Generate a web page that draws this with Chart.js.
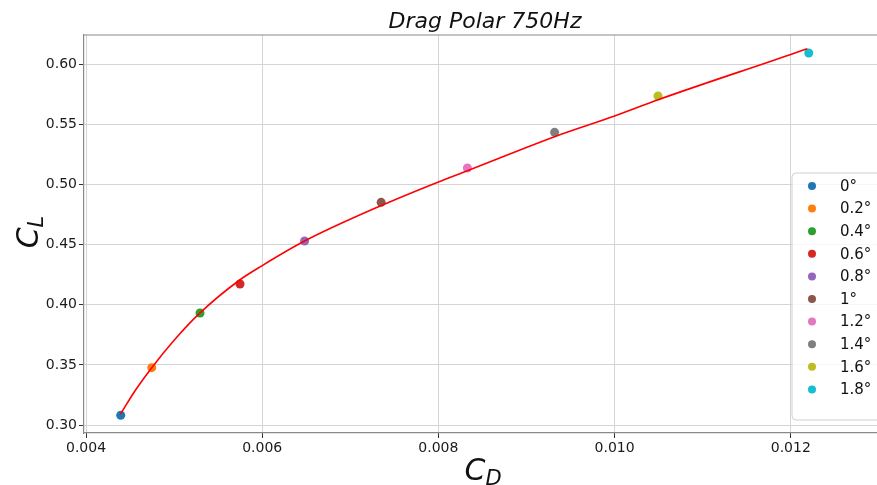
<!DOCTYPE html>
<html>
<head>
<meta charset="utf-8">
<script src="https://cdn.jsdelivr.net/npm/chart.js@4/dist/chart.umd.min.js"></script>
<style>
  html, body { margin: 0; padding: 0; background: #fff; overflow: hidden; }
  #wrap { width: 877px; height: 485px; overflow: hidden; }
</style>
</head>
<body>
<div id="wrap"><canvas id="polarChart" width="892" height="485"></canvas></div>
<script>
// angle of attack labels
const angles = ['0°', '0.2°', '0.4°', '0.6°', '0.8°', '1°', '1.2°', '1.4°', '1.6°', '1.8°'];

// measured points (CD, CL)
const cdPoints = [0.004394, 0.004746, 0.005294, 0.005748, 0.006481, 0.007350, 0.008329, 0.009319, 0.010493, 0.012204];
const clPoints = [0.3081, 0.3477, 0.3932, 0.4173, 0.4530, 0.4852, 0.5138, 0.5434, 0.5736, 0.6094];

// red fit curve
const fitCd = [0.004389, 0.004568, 0.004746, 0.005010, 0.005294, 0.005748, 0.006000, 0.006481, 0.007350, 0.008000, 0.008329, 0.009319, 0.010000, 0.010493, 0.012000, 0.012188];
const fitCl = [0.3089, 0.3297, 0.3477, 0.3713, 0.3932, 0.4208, 0.4326, 0.4530, 0.4825, 0.5022, 0.5115, 0.5398, 0.5570, 0.5705, 0.6082, 0.6130];

// tick labels
const xTicks = [0.004, 0.006, 0.008, 0.010, 0.012];
const yTicks = [0.30, 0.35, 0.40, 0.45, 0.50, 0.55, 0.60];

const tab10 = ['#1f77b4', '#ff7f0e', '#2ca02c', '#d62728', '#9467bd', '#8c564b', '#e377c2', '#7f7f7f', '#bcbd22', '#17becf'];
const FONT = '"DejaVu Sans", sans-serif';

const datasets = [{
    label: 'fit',
    data: fitCd.map((x, i) => ({x: x, y: fitCl[i]})),
    showLine: true,
    borderColor: '#ff0000',
    borderWidth: 1.6,
    pointRadius: 0,
    cubicInterpolationMode: 'monotone',
    order: 0
}];
angles.forEach((a, i) => {
    datasets.push({
        label: a,
        data: [{x: cdPoints[i], y: clPoints[i]}],
        backgroundColor: tab10[i],
        borderColor: tab10[i],
        pointRadius: 4.5,
        pointBorderWidth: 0,
        order: 1
    });
});

// title, axis labels, top spine and legend box
const decorPlugin = {
    id: 'decor',
    afterDatasetsDraw(chart) {
        const ctx = chart.ctx;
        const area = chart.chartArea;
        ctx.save();

        // top spine
        ctx.strokeStyle = '#8a8a8a';
        ctx.lineWidth = 1.2;
        ctx.beginPath();
        ctx.moveTo(area.left, area.top);
        ctx.lineTo(area.right, area.top);
        ctx.stroke();

        // title
        ctx.fillStyle = '#111';
        ctx.font = 'italic 22px ' + FONT;
        ctx.textAlign = 'center';
        ctx.textBaseline = 'alphabetic';
        ctx.fillText('Drag Polar 750Hz', (area.left + area.right) / 2, 28);

        // subscripted axis labels
        function subLabel(main, sub, cx, cy, rot) {
            ctx.save();
            ctx.translate(cx, cy);
            ctx.rotate(rot);
            ctx.font = 'italic 30px ' + FONT;
            const w1 = ctx.measureText(main).width;
            ctx.font = 'italic 21px ' + FONT;
            const w2 = ctx.measureText(sub).width;
            const x0 = -(w1 + w2) / 2;
            ctx.textAlign = 'left';
            ctx.font = 'italic 30px ' + FONT;
            ctx.fillText(main, x0, 0);
            ctx.font = 'italic 21px ' + FONT;
            ctx.fillText(sub, x0 + w1, 5);
            ctx.restore();
        }
        subLabel('C', 'D', 483, 480, 0);
        subLabel('C', 'L', 38, 232, -Math.PI / 2);

        // legend
        const lx = 792, ly = 173, lw = 100, lh = 247;
        ctx.beginPath();
        ctx.roundRect(lx, ly, lw, lh, 4);
        ctx.fillStyle = 'rgba(255,255,255,0.8)';
        ctx.fill();
        ctx.strokeStyle = '#d0d0d0';
        ctx.lineWidth = 1;
        ctx.stroke();
        ctx.font = '15px ' + FONT;
        ctx.textAlign = 'left';
        ctx.textBaseline = 'middle';
        angles.forEach((a, i) => {
            const y = 186 + i * 22.6;
            ctx.beginPath();
            ctx.arc(812, y, 4, 0, Math.PI * 2);
            ctx.fillStyle = tab10[i];
            ctx.fill();
            ctx.fillStyle = '#111';
            ctx.fillText(a, 840, y + 1);
        });
        ctx.restore();
    }
};

new Chart(document.getElementById('polarChart').getContext('2d'), {
    type: 'scatter',
    data: { datasets: datasets },
    options: {
        responsive: false,
        animation: false,
        devicePixelRatio: 1,
        layout: { padding: { top: 35, right: 6, bottom: 0, left: 0 } },
        plugins: {
            legend: { display: false },
            title: { display: false },
            tooltip: { enabled: false }
        },
        scales: {
            x: {
                type: 'linear',
                min: 0.003977,
                max: 0.013081,
                afterFit: s => { s.height = 52; },
                afterBuildTicks: s => { s.ticks = xTicks.map(v => ({value: v})); },
                border: { display: true, color: '#8a8a8a', width: 1.2 },
                grid: { color: '#d4d4d4', lineWidth: 1, tickLength: 5, tickColor: '#333' },
                ticks: {
                    color: '#1a1a1a',
                    font: { family: FONT, size: 14 },
                    padding: 2,
                    maxRotation: 0,
                    callback: v => v.toFixed(3)
                }
            },
            y: {
                type: 'linear',
                min: 0.29335,
                max: 0.62437,
                afterFit: s => { s.width = 84; },
                afterBuildTicks: s => { s.ticks = yTicks.map(v => ({value: v})); },
                border: { display: true, color: '#8a8a8a', width: 1.2 },
                grid: { color: '#d4d4d4', lineWidth: 1, tickLength: 5, tickColor: '#333' },
                ticks: {
                    color: '#1a1a1a',
                    font: { family: FONT, size: 14 },
                    padding: 2,
                    callback: v => v.toFixed(2)
                }
            }
        }
    },
    plugins: [decorPlugin]
});
</script>
</body>
</html>
